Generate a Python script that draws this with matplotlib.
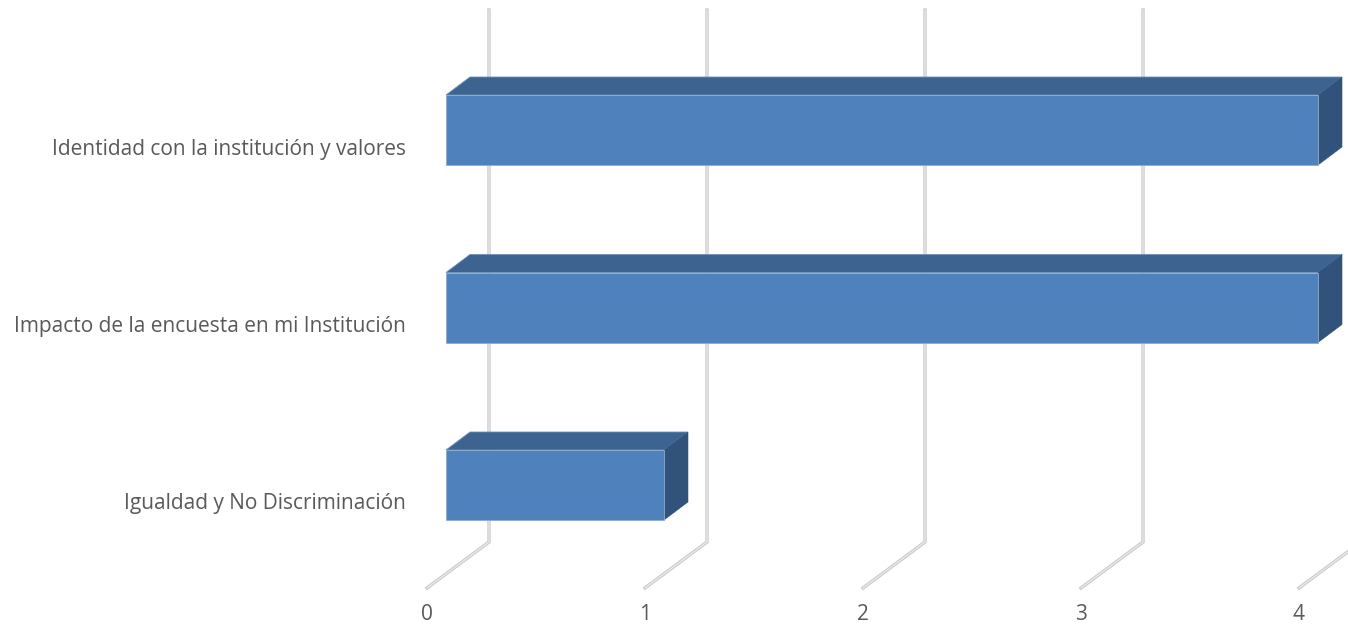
"""3-D style horizontal bar chart (Excel look) drawn with flat matplotlib polygons."""
import matplotlib
matplotlib.use("Agg")
import matplotlib.pyplot as plt
from matplotlib.patches import Polygon

# --------------------------------------------------------------------------- #
# data
# --------------------------------------------------------------------------- #
categories = [
    "Igualdad y No Discriminación",
    "Impacto de la encuesta en mi Institución",
    "Identidad con la institución y valores",
]
values = [1, 4, 4]
ticks = [0, 1, 2, 3, 4]

# --------------------------------------------------------------------------- #
# style / geometry (pixel sizes converted to data units)
# --------------------------------------------------------------------------- #
W, H = 1348, 627
PX_V = 1 / 218.0            # value units per pixel (x)
PX_C = 1 / 177.5            # category units per pixel (y)
FRONT = "#4F81BD"
TOP = "#3D6491"
SIDE = "#30527B"
GRID_DARK = "#C8C8C8"
GRID_LIGHT = "#EBEBEB"
TEXT = "#595959"

bar_h = 70 * PX_C           # front-face height
bar_z0 = 19 * PX_V          # bar front plane offset from floor front (x)
bar_dx, bar_dy = 24 * PX_V, 18 * PX_C    # bar depth
wall_dx, wall_dy = 62 * PX_V, 46 * PX_C  # floor depth
floor_y = -103 * PX_C       # floor front edge
top_y = 475 * PX_C          # top of gridlines

fig = plt.figure(figsize=(W / 100, H / 100), dpi=100)
ax = fig.add_axes([0, 0, 1, 1])
ax.set_xlim(-427 * PX_V, (W - 427) * PX_V)
ax.set_ylim(-142 * PX_C, 485 * PX_C)
ax.axis("off")

# gridlines on the back wall + floor diagonals
for t in ticks:
    xs = [t, t + wall_dx, t + wall_dx]
    ys = [floor_y, floor_y + wall_dy, top_y]
    ax.plot(xs, ys, color=GRID_DARK, lw=2.4, solid_joinstyle="miter", zorder=1)
    ax.plot(xs, ys, color=GRID_LIGHT, lw=0.9, solid_joinstyle="miter", zorder=1.1)
    ax.text(t, -130 * PX_C, str(t), ha="center", va="center",
            fontsize=15, color=TEXT, family="Open Sans")

# bars: front, top, side faces
for i, (cat, v) in enumerate(zip(categories, values)):
    x0, x1 = bar_z0, bar_z0 + v
    y0, y1 = i - bar_h / 2, i + bar_h / 2
    front = [(x0, y0), (x1, y0), (x1, y1), (x0, y1)]
    top = [(x0, y1), (x1, y1), (x1 + bar_dx, y1 + bar_dy), (x0 + bar_dx, y1 + bar_dy)]
    side = [(x1, y0), (x1 + bar_dx, y0 + bar_dy), (x1 + bar_dx, y1 + bar_dy), (x1, y1)]
    ax.add_patch(Polygon(top, closed=True, fc=TOP, ec="#6F8FB5", lw=0.6, zorder=3))
    ax.add_patch(Polygon(side, closed=True, fc=SIDE, ec=SIDE, lw=0.4, zorder=3))
    ax.add_patch(Polygon(front, closed=True, fc=FRONT, ec="#8EAAD0", lw=0.6, zorder=4))
    ax.text(-21 * PX_V, i - 19 * PX_C, cat, ha="right", va="center",
            fontsize=15, color=TEXT, family="Open Sans")

fig.savefig("out.png", dpi=100)
